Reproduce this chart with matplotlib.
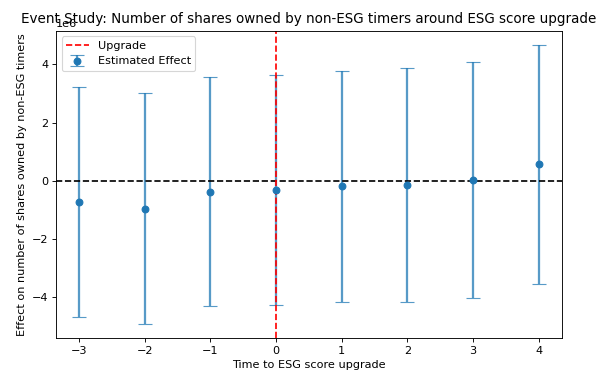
import numpy as np
import matplotlib
matplotlib.use("Agg")
import matplotlib.pyplot as plt

# event time relative to the ESG score upgrade
event_time = [-3, -2, -1, 0, 1, 2, 3, 4]
# estimated effect and half-width of the confidence interval
estimates = [-0.72e6, -0.96e6, -0.38e6, -0.33e6, -0.19e6, -0.14e6, 0.01e6, 0.57e6]
ci_halfwidth = [3.96e6, 3.96e6, 3.94e6, 3.95e6, 3.98e6, 4.03e6, 4.06e6, 4.11e6]

DPI = 81
fig = plt.figure(figsize=(608 / DPI, 374 / DPI), dpi=DPI)
ax = fig.add_axes([56 / 608, 36.3 / 374, 505.7 / 608, 307 / 374])

ax.errorbar(event_time, estimates, yerr=ci_halfwidth, fmt='o', capsize=6,
            color='C0', ecolor=(0.12, 0.47, 0.71, 0.75), elinewidth=2,
            label='Estimated Effect')
ax.axhline(0, color='black', linestyle='--')
ax.axvline(0, color='red', linestyle='--', label='Upgrade')

# fixed y keeps the title in place over the 1e6 offset label
ax.set_title("Event Study: Number of shares owned by non-ESG timers around ESG score upgrade",
             y=1.0, pad=7)
ax.set_xlabel("Time to ESG score upgrade")
ax.set_ylabel("Effect on number of shares owned by non-ESG timers")
ax.legend(loc='upper left')

fig.savefig("out.png", dpi=DPI)
